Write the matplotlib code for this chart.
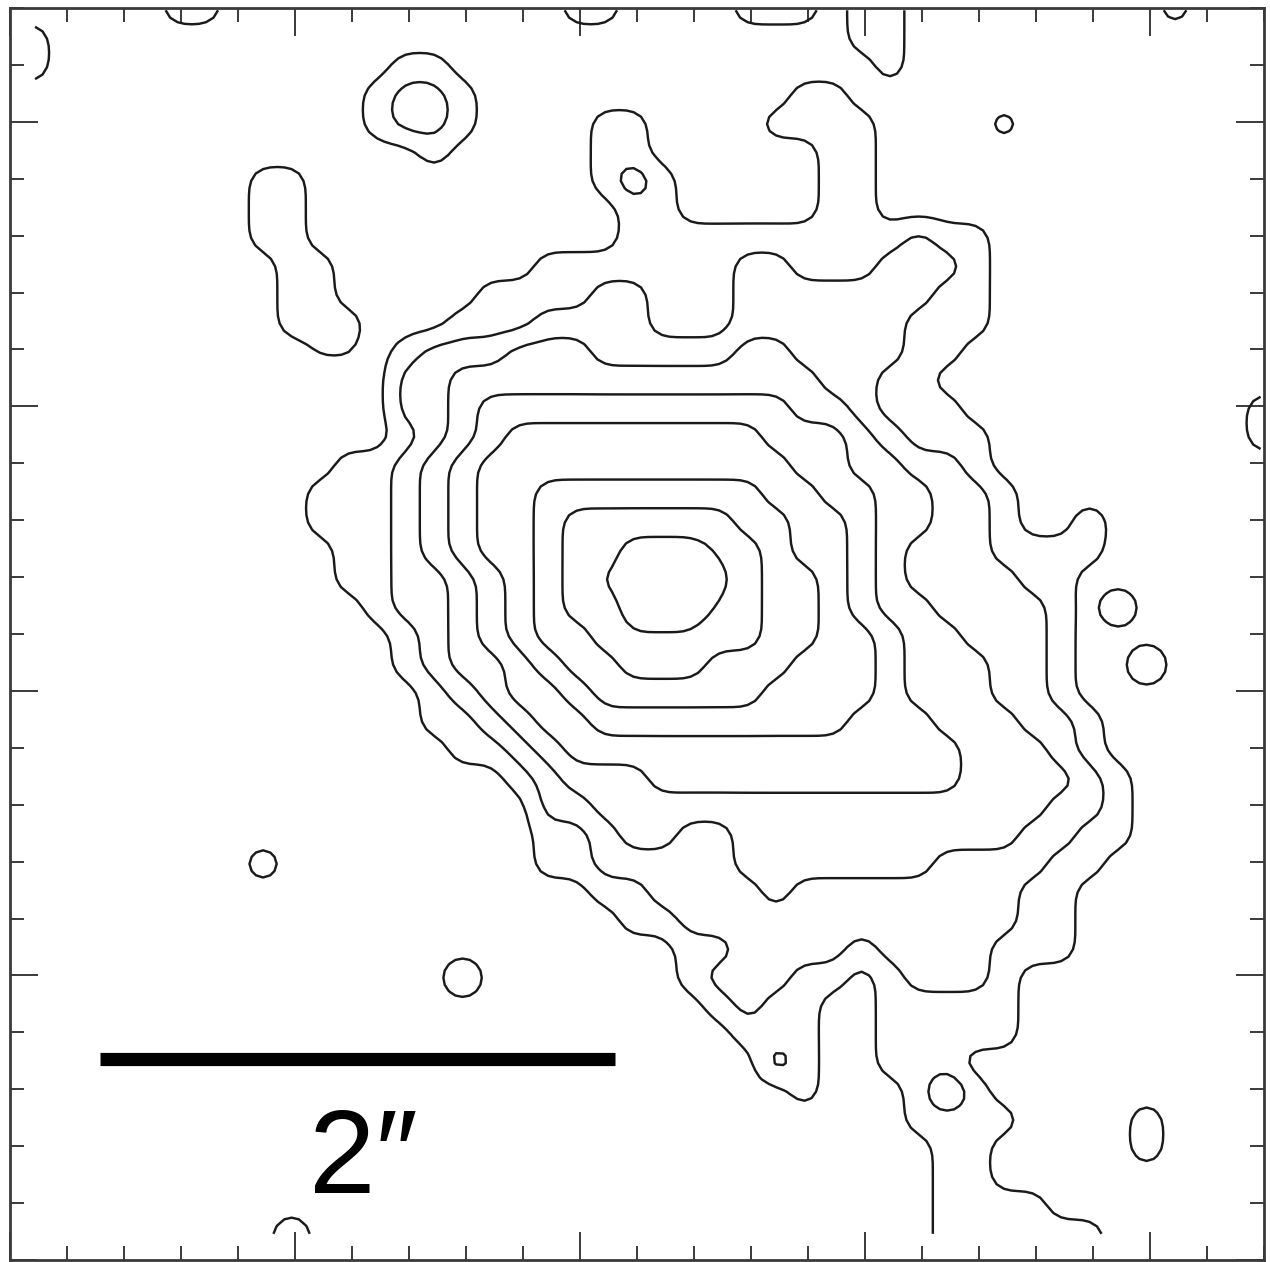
import numpy as np
import matplotlib
matplotlib.use("Agg")
import matplotlib.pyplot as plt
from matplotlib.ticker import MultipleLocator
from matplotlib import font_manager

# Surface-brightness map expressed in contour-level units (0 = background,
# 8 = nucleus), sampled on a 44 x 44 grid.  Each row is a list of
# (first column, last column, level) runs; later runs overwrite earlier ones.
N_ROWS, N_COLS = 44, 44
level_runs = [
    [(5, 6, 1), (19, 20, 1), (25, 27, 1), (29, 30, 1), (40, 40, 1)],
    [(0, 0, 1), (29, 30, 1)],
    [(0, 0, 1), (13, 14, 1), (30, 30, 1)],
    [(12, 15, 1), (13, 14, 2), (27, 28, 1)],
    [(12, 15, 1), (13, 14, 2), (20, 21, 1), (26, 29, 1), (34, 34, 1.05)],
    [(14, 14, 1), (20, 21, 1), (28, 29, 1)],
    [(8, 9, 1), (20, 22, 1), (21, 21, 2.4), (28, 29, 1)],
    [(8, 9, 1), (21, 22, 1), (28, 29, 1)],
    [(8, 9, 1), (21, 33, 1), (31, 31, 2)],
    [(9, 10, 1), (18, 33, 1), (25, 26, 2), (30, 32, 2)],
    [(9, 10, 1), (16, 33, 1), (20, 21, 2), (25, 31, 2)],
    [(9, 11, 1), (15, 33, 1), (18, 21, 2), (25, 30, 2)],
    [(10, 11, 0.6), (13, 32, 1), (14, 30, 2), (17, 19, 3), (25, 26, 3)],
    [(13, 31, 1), (13, 29, 2), (15, 27, 3)],
    [(13, 32, 1), (43, 43, 1), (13, 29, 2), (15, 28, 3), (16, 26, 4)],
    [(13, 33, 1), (43, 43, 1), (14, 30, 2), (15, 29, 3), (16, 28, 4), (17, 25, 5)],
    [(11, 33, 1), (13, 32, 2), (14, 30, 3), (15, 28, 4), (16, 26, 5)],
    [(10, 34, 1), (13, 33, 2), (14, 31, 3), (15, 29, 4), (16, 27, 5), (18, 25, 6)],
    [(10, 34, 1), (37, 37, 1.3), (13, 33, 2), (14, 31, 3), (15, 29, 4), (16, 28, 5),
     (18, 26, 6), (19, 24, 7)],
    [(11, 37, 1), (13, 33, 2), (14, 30, 3), (15, 29, 4), (16, 28, 5), (18, 26, 6),
     (19, 25, 7), (21, 23, 8), (24, 24, 7.4)],
    [(11, 36, 1), (13, 34, 2), (15, 30, 3), (16, 29, 4), (17, 28, 5), (18, 27, 6),
     (19, 25, 7), (20, 20, 7.6), (21, 23, 8), (24, 24, 7.8)],
    [(12, 36, 1), (38, 38, 1.8), (13, 35, 2), (15, 31, 3), (16, 29, 4), (17, 28, 5),
     (18, 27, 6), (19, 25, 7), (21, 23, 8), (24, 24, 7.4)],
    [(13, 36, 1), (14, 35, 2), (15, 32, 3), (16, 30, 4), (17, 29, 5), (18, 27, 6),
     (20, 25, 7), (21, 23, 7.4)],
    [(13, 36, 1), (39, 39, 2.0), (14, 35, 2), (15, 33, 3), (17, 30, 4), (18, 29, 5),
     (19, 26, 6), (21, 23, 7)],
    [(14, 36, 1), (15, 35, 2), (16, 33, 3), (17, 30, 4), (19, 29, 5), (20, 25, 6)],
    [(14, 37, 1), (16, 36, 2), (17, 34, 3), (18, 31, 4), (20, 28, 5)],
    [(15, 37, 1), (17, 36, 2), (18, 35, 3), (19, 32, 4)],
    [(17, 38, 1), (18, 37, 2), (19, 36, 3), (22, 32, 4)],
    [(18, 38, 1), (18, 37, 2), (20, 35, 3)],
    [(18, 38, 1), (20, 36, 2), (21, 22, 3), (25, 34, 3)],
    [(8, 8, 1.3), (18, 37, 1), (20, 35, 2), (25, 31, 3)],
    [(20, 36, 1), (22, 34, 2), (26, 26, 3)],
    [(21, 36, 1), (23, 34, 2)],
    [(23, 36, 1), (25, 28, 2), (30, 33, 2)],
    [(15, 15, 1.9), (23, 34, 1), (29, 29, 0), (24, 26, 2), (31, 33, 2)],
    [(24, 27, 1), (30, 34, 1), (25, 25, 2)],
    [(25, 27, 1), (30, 34, 1)],
    [(26, 27, 1), (30, 32, 1), (26, 26, 2.3)],
    [(27, 27, 1), (31, 33, 1), (32, 32, 2.9)],
    [(31, 34, 1), (39, 39, 1.2)],
    [(32, 33, 1), (39, 39, 1.2)],
    [(32, 33, 1)],
    [(32, 35, 1)],
    [(9, 9, 1.5), (32, 37, 1)],
]
contour_levels = [0.5, 1.5, 2.5, 3.5, 4.5, 5.5, 6.5, 7.5]

# Angular scale
scale_bar_arcsec = 2.0
arcsec_per_unit = 0.2215
scale_label = "2\u2033"

# ---- build the map ---------------------------------------------------------
img = np.zeros((N_ROWS, N_COLS))
for j, runs in enumerate(level_runs):
    for c0, c1, lev in runs:
        img[j, c0:c1 + 1] = lev


def linear_resample(a, factor, axis):
    """Linear resampling of `a` along one axis (grid nodes are kept)."""
    a = np.moveaxis(a, axis, 0)
    n = a.shape[0]
    t = np.linspace(0, n - 1, (n - 1) * factor + 1)
    i = np.clip(np.floor(t).astype(int), 0, n - 2)
    s = (t - i)[:, None]
    out = a[i] * (1 - s) + a[i + 1] * s
    return np.moveaxis(out, 0, axis)


def gaussian_smooth(a, sigma):
    """Separable gaussian smoothing with edge padding."""
    r = int(np.ceil(3 * sigma))
    k = np.exp(-0.5 * (np.arange(-r, r + 1) / sigma) ** 2)
    k /= k.sum()
    p = np.pad(a, r, mode="edge")
    p = np.apply_along_axis(lambda v: np.convolve(v, k, mode="valid"), 0, p)
    p = np.apply_along_axis(lambda v: np.convolve(v, k, mode="valid"), 1, p)
    return p


FACTOR = 4
fine = linear_resample(linear_resample(img, FACTOR, 0), FACTOR, 1)
fine = gaussian_smooth(fine, 1.3)

# sample positions in axis units (grid step is half a tick)
x_first, y_first, step = 0.44, 21.96, 0.5
xs = x_first + step / FACTOR * np.arange(fine.shape[1])
ys = y_first - step / FACTOR * np.arange(fine.shape[0])

# ---- figure ------------------------------------------------------------------
W, H = 1270, 1262
fig = plt.figure(figsize=(W / 100, H / 100), dpi=100)
ax = fig.add_axes([10 / W, 2 / H, 1254 / W, 1252 / H])
ax.set_xlim(0, 22)
ax.set_ylim(0, 22)

ax.contour(xs, ys, fine, levels=contour_levels, colors="#1a1a1a",
           linewidths=1.75, antialiased=True)

# scale bar
bar_x0, bar_y = 1.58, 3.54
bar_len = scale_bar_arcsec / arcsec_per_unit
ax.plot([bar_x0, bar_x0 + bar_len], [bar_y, bar_y], color="black", lw=9.5,
        solid_capstyle="butt")

names = {f.name for f in font_manager.fontManager.ttflist}
fam = [n for n in ["Liberation Sans Narrow", "Liberation Sans"] if n in names]
fam.append("DejaVu Sans")
ax.text(bar_x0 + bar_len / 2 + 0.1, 1.18, scale_label, ha="center", va="baseline",
        fontsize=86, family=fam, color="black")

# frame and ticks
ax.xaxis.set_major_locator(MultipleLocator(5))
ax.xaxis.set_minor_locator(MultipleLocator(1))
ax.yaxis.set_major_locator(MultipleLocator(5))
ax.yaxis.set_minor_locator(MultipleLocator(1))
ax.tick_params(which="both", direction="in", top=True, right=True,
               bottom=True, left=True, labelbottom=False, labelleft=False,
               color="#3a3a3a", width=1.4)
ax.tick_params(which="major", length=20)
ax.tick_params(which="minor", length=10)
for sp in ax.spines.values():
    sp.set_linewidth(2.0)
    sp.set_color("#3a3a3a")

fig.savefig("out.png", dpi=100)
